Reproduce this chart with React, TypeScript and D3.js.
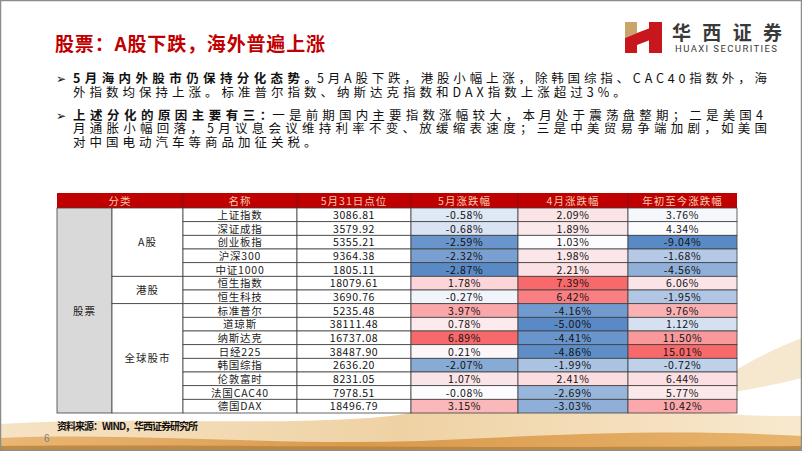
import React from 'react';
import * as d3 from 'd3';

// table data
const headers = ['分类', '名称', '5月31日点位', '5月涨跌幅', '4月涨跌幅', '年初至今涨跌幅'];
const sectorLabel = '股票';
const groupLabels = ['A股', '港股', '全球股市'];
const groupSizes = [5, 2, 8];
const names = ['上证指数', '深证成指', '创业板指', '沪深300', '中证1000', '恒生指数', '恒生科技', '标准普尔',
    '道琼斯', '纳斯达克', '日经225', '韩国综指', '伦敦富时', '法国CAC40', '德国DAX'];
const closes = [3086.81, 3579.92, 5355.21, 9364.38, 1805.11, 18079.61, 3690.76, 5235.48,
    38111.48, 16737.08, 38487.90, 2636.20, 8231.05, 7978.51, 18496.79];
const mayChg = [-0.58, -0.68, -2.59, -2.32, -2.87, 1.78, -0.27, 3.97, 0.78, 6.89, 0.21, -2.07, 1.07, -0.08, 3.15];
const aprChg = [2.09, 1.89, 1.03, 1.98, 2.21, 7.39, 6.42, -4.16, -5.00, -4.41, -4.86, -1.99, 2.41, -2.69, -3.03];
const ytdChg = [3.76, 4.34, -9.04, -1.68, -4.56, 6.06, -1.95, 9.76, 1.12, 11.50, 15.01, -0.72, 6.44, 5.77, 10.42];

// slide texts
const title = '股票：A股下跌，海外普遍上涨';
const bullet1Bold = '5月海内外股市仍保持分化态势。';
const bullet1Lines = ['5月A股下跌，港股小幅上涨，除韩国综指、CAC40指数外，海', '外指数均保持上涨。标准普尔指数、纳斯达克指数和DAX指数上涨超过3%。'];
const bullet2Bold = '上述分化的原因主要有三：';
const bullet2Lines = ['一是前期国内主要指数涨幅较大，本月处于震荡盘整期；二是美国4',
    '月通胀小幅回落，5月议息会议维持利率不变、放缓缩表速度；三是中美贸易争端加剧，如美国',
    '对中国电动汽车等商品加征关税。'];
const source = '资料来源：WIND，华西证券研究所';

const W = 802;
const H = 451;
const CJK = '"Noto Sans CJK SC", "Noto Sans", sans-serif';

// layout of the table
const colEdges = [57, 112, 183, 297, 411, 518, 628, 737];
const headTop = 193;
const bodyTop = 208;
const bodyBottom = 413;

const colorScale = (vals: number[]) => d3.scaleLinear<string>()
    .domain([d3.min(vals)!, d3.median(vals)!, d3.max(vals)!])
    .range(['#5A8AC6', '#FCFCFF', '#F8696B'])
    .interpolate(d3.interpolateRgb);

// rough width of a string in ems (latin ~ half width)
const ems = (s: string) => Array.from(s).reduce((a, c) => a + (c.charCodeAt(0) < 256 ? 0.55 : 1), 0);

// a justified line made of a bold lead and a normal rest
const JustLine = ({x0, x1, y, bold, rest}: { x0: number, x1: number, y: number, bold: string, rest: string }) => {
    const split = x0 + (x1 - x0) * ems(bold) / (ems(bold) + ems(rest));
    return (
        <>
            <text x={x0} y={y} fontWeight="bold" textLength={split - x0} lengthAdjust="spacing">{bold}</text>
            <text x={split} y={y} textLength={x1 - split} lengthAdjust="spacing">{rest}</text>
        </>
    );
};

const App = () => {
    const y = d3.scaleBand<number>()
        .domain(d3.range(names.length))
        .range([bodyTop, bodyBottom])
        .paddingInner(0)
        .paddingOuter(0);
    const rh = y.bandwidth();

    const pctCols = [mayChg, aprChg, ytdChg];
    const scales = pctCols.map(colorScale);

    const cx = (i: number) => (colEdges[i] + colEdges[i + 1]) / 2;
    const cw = (i: number) => colEdges[i + 1] - colEdges[i];

    // group spans
    let acc = 0;
    const groups = groupLabels.map((g, i) => {
        const start = acc;
        acc += groupSizes[i];
        return {label: g, start, end: acc};
    });

    const lineColor = '#3f3f3f';
    const headerHeights = bodyTop - headTop;

    return (
        <svg width={W} height={H} style={{position: 'absolute', left: 0, top: 0}} fontFamily={CJK}>
            <defs>
                <linearGradient id="sand" x1="0" y1="0" x2="1" y2="0">
                    <stop offset="0%" stopColor="#F6E3C4"/>
                    <stop offset="50%" stopColor="#EFD2A4"/>
                    <stop offset="100%" stopColor="#F8E9CF"/>
                </linearGradient>
                <linearGradient id="band" x1="0" y1="0" x2="1" y2="0">
                    <stop offset="0%" stopColor="#E9B774"/>
                    <stop offset="45%" stopColor="#D99A4C"/>
                    <stop offset="100%" stopColor="#E8B46C"/>
                </linearGradient>
            </defs>
            <rect x={0} y={0} width={W} height={H} fill="#ffffff"/>

            {/* background swoosh */}
            <path d="M0,451 L0,424 C120,416 250,426 370,418 C430,414 470,396 520,394 C600,392 680,418 802,416 L802,451 Z"
                  fill="url(#sand)"/>
            <path d="M690,398 C730,372 765,352 802,338 L802,378 C770,386 730,394 690,398 Z" fill="#F2DDBA" opacity={0.7}/>
            <path d="M0,451 L0,438 C140,432 280,446 420,441 C540,436 660,428 802,436 L802,451 Z" fill="url(#band)"/>
            <path d="M0,451 L0,446 C200,444 500,449 802,446 L802,451 Z" fill="#B7803F" opacity={0.8}/>

            {/* frame */}
            <rect x={0.5} y={0.5} width={W - 1} height={H - 1} fill="none" stroke="#8c8c8c" strokeWidth={1.5}/>

            {/* title */}
            <text x={55} y={51} fontSize={19} fontWeight="bold" fill="#C00000" textLength={270}
                  lengthAdjust="spacing">{title}</text>

            {/* logo */}
            <g>
                <polygon points="625,22 637,22 637,33 625,38" fill="#C9A46B"/>
                <polygon points="625,38 637,33 637,53 625,53" fill="#C8161D"/>
                <polygon points="637,33 650,28 650,40 637,45" fill="#C8161D"/>
                <polygon points="649,22 662,22 662,53 649,53" fill="#C8161D"/>
                <text x={672} y={40} fontSize={19} fontWeight="bold" fill="#3a3a3a" textLength={110}
                      lengthAdjust="spacing">华西证券</text>
                <text x={675} y={52} fontSize={9.5} fill="#3a3a3a" fontFamily="Roboto, sans-serif"
                      textLength={102} lengthAdjust="spacing">HUAXI SECURITIES</text>
            </g>

            {/* bullets */}
            <g fontSize={12.5} fill="#111">
                <text x={56} y={83} fontFamily='"DejaVu Sans", sans-serif' fontSize={12}>➢</text>
                <JustLine x0={73} x1={767} y={83} bold={bullet1Bold} rest={bullet1Lines[0]}/>
                <text x={73} y={97} letterSpacing={4}>{bullet1Lines[1]}</text>

                <text x={56} y={120} fontFamily='"DejaVu Sans", sans-serif' fontSize={12}>➢</text>
                <JustLine x0={73} x1={763} y={120} bold={bullet2Bold} rest={bullet2Lines[0]}/>
                <text x={73} y={133} textLength={767 - 73} lengthAdjust="spacing">{bullet2Lines[1]}</text>
                <text x={73} y={147} letterSpacing={4}>{bullet2Lines[2]}</text>
            </g>

            {/* table header */}
            <g>
                <rect x={colEdges[0]} y={headTop} width={colEdges[7] - colEdges[0]} height={headerHeights}
                      fill="#C00000"/>
                {[2, 3, 4, 5, 6].map(i => (
                    <line key={i} x1={colEdges[i]} x2={colEdges[i]} y1={headTop} y2={bodyTop}
                          stroke="#7a1010" strokeWidth={0.8}/>
                ))}
                {headers.map((h, i) => {
                    const x = i === 0 ? (colEdges[0] + colEdges[2]) / 2 : cx(i + 1);
                    return (
                        <text key={h} x={x} y={headTop + headerHeights / 2 + 4} textAnchor="middle" fontSize={10.5}
                              fill="#F8CBAD" letterSpacing={1}>{h}</text>
                    );
                })}
            </g>

            {/* sector column */}
            <rect x={colEdges[0]} y={bodyTop} width={cw(0)} height={bodyBottom - bodyTop} fill="#D9D9D9"
                  stroke={lineColor} strokeWidth={0.8}/>
            <text x={cx(0)} y={(bodyTop + bodyBottom) / 2 + 4} textAnchor="middle" fontSize={10.5} fill="#222"
                  letterSpacing={1}>{sectorLabel}</text>

            {/* group column */}
            {groups.map(g => {
                const y0 = y(g.start)!;
                const y1 = y(g.end - 1)! + rh;
                return (
                    <g key={g.label}>
                        <rect x={colEdges[1]} y={y0} width={cw(1)} height={y1 - y0} fill="#ffffff"
                              stroke={lineColor} strokeWidth={0.8}/>
                        <text x={cx(1)} y={(y0 + y1) / 2 + 4} textAnchor="middle" fontSize={10.5} fill="#222"
                              letterSpacing={1}>{g.label}</text>
                    </g>
                );
            })}

            {/* rows */}
            {names.map((n, r) => {
                const ty = y(r)!;
                const textY = ty + rh / 2 + 4;
                return (
                    <g key={n}>
                        <rect x={colEdges[2]} y={ty} width={cw(2)} height={rh} fill="#fff" stroke={lineColor}
                              strokeWidth={0.8}/>
                        <text x={cx(2)} y={textY} textAnchor="middle" fontSize={10.5} fill="#222"
                              letterSpacing={0.8}>{n}</text>
                        <rect x={colEdges[3]} y={ty} width={cw(3)} height={rh} fill="#fff" stroke={lineColor}
                              strokeWidth={0.8}/>
                        <text x={cx(3)} y={textY} textAnchor="middle" fontSize={10.5} fill="#111"
                              letterSpacing={0.6}>{closes[r].toFixed(2)}</text>
                        {pctCols.map((col, c) => (
                            <g key={c}>
                                <rect x={colEdges[4 + c]} y={ty} width={cw(4 + c)} height={rh}
                                      fill={scales[c](col[r])} stroke={lineColor} strokeWidth={0.8}/>
                                <text x={cx(4 + c)} y={textY} textAnchor="middle" fontSize={10.5} fill="#111"
                                      letterSpacing={0.6}>{col[r].toFixed(2)}%</text>
                            </g>
                        ))}
                    </g>
                );
            })}

            {/* source and page */}
            <text x={57} y={430} fontSize={10} fontWeight="bold" fill="#111" textLength={141}
                  lengthAdjust="spacing">{source}</text>
            <text x={44} y={442} fontSize={10} fill="#7f7f7f" fontFamily="Arial, Liberation Sans, sans-serif">6</text>
        </svg>
    );
};

export default App;
